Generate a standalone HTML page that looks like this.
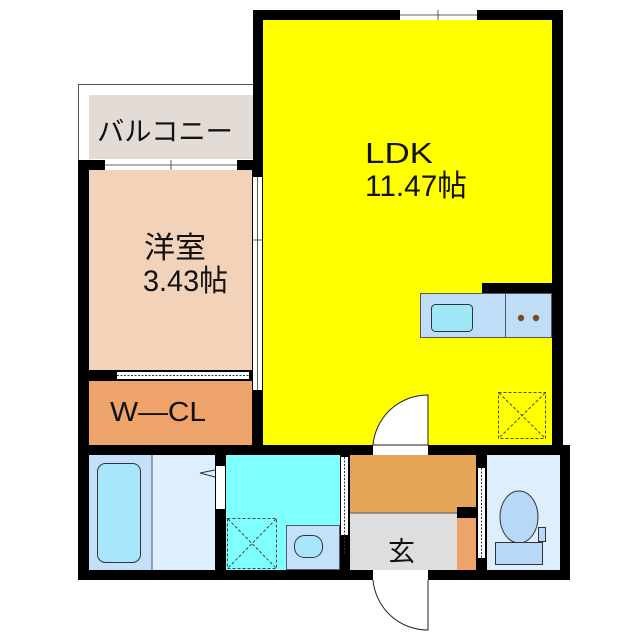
<!DOCTYPE html>
<html><head><meta charset="utf-8"><style>html,body{margin:0;padding:0;background:#fff}svg{display:block}text{font-family:"Liberation Sans","Noto Sans CJK JP",sans-serif;fill:#111}</style></head><body>
<svg width="640" height="640" viewBox="0 0 640 640" xmlns="http://www.w3.org/2000/svg">
<rect width="640" height="640" fill="#fff"/>
<rect x="78.5" y="84.5" width="175" height="76" fill="#fff" stroke="#555" stroke-width="1"/>
<rect x="89" y="95" width="164" height="64" fill="#e2dbd6"/>
<rect x="253" y="10" width="309" height="445" fill="#000"/>
<rect x="78" y="160" width="185" height="295" fill="#000"/>
<rect x="78" y="445" width="492" height="135" fill="#000"/>
<rect x="553" y="10" width="10" height="445" fill="#000"/>
<rect x="560" y="445" width="10" height="135" fill="#000"/>
<rect x="263" y="20" width="289" height="425" fill="#ffff00"/>
<rect x="400" y="10" width="77" height="10" fill="#fff"/>
<line x1="400" y1="15" x2="477" y2="15" stroke="#333" stroke-width="0.8"/>
<line x1="438" y1="10" x2="438" y2="20" stroke="#333" stroke-width="0.8"/>
<rect x="482" y="283" width="70" height="10" fill="#000"/>
<rect x="420.5" y="293.5" width="131" height="44" fill="#c0ddf8" stroke="#556" stroke-width="1"/>
<line x1="505.5" y1="293" x2="505.5" y2="338" stroke="#556"/>
<rect x="431.5" y="304.5" width="41" height="27" rx="4" fill="#9ee8f8" stroke="#333"/>
<circle cx="521" cy="318" r="3.2" fill="#7a4a20"/>
<circle cx="536" cy="318" r="3.2" fill="#7a4a20"/>
<rect x="498.5" y="392.5" width="47" height="46" fill="none" stroke="#444" stroke-dasharray="3,2"/>
<line x1="499" y1="393" x2="545" y2="438" stroke="#444" stroke-dasharray="3,2"/>
<line x1="545" y1="393" x2="499" y2="438" stroke="#444" stroke-dasharray="3,2"/>
<rect x="373" y="445" width="55" height="10" fill="#fff"/>
<path d="M428 445 L428 395 A55 55 0 0 0 373 445 Z" fill="#fff" stroke="#222" stroke-width="1"/>
<rect x="89" y="170" width="163" height="200" fill="#f2d3ba"/>
<rect x="105" y="160" width="132" height="10" fill="#fff"/>
<line x1="105" y1="165" x2="237" y2="165" stroke="#333" stroke-width="0.8"/>
<line x1="171" y1="160" x2="171" y2="170" stroke="#333" stroke-width="0.8"/>
<rect x="253" y="177" width="9" height="213" fill="#fff"/>
<line x1="257.5" y1="177" x2="257.5" y2="390" stroke="#333" stroke-width="0.8"/>
<line x1="253" y1="240" x2="262" y2="240" stroke="#333" stroke-width="0.8"/>
<rect x="117" y="372" width="132" height="7" fill="#fff"/>
<line x1="117" y1="375.5" x2="249" y2="375.5" stroke="#333" stroke-dasharray="2,1.5"/>
<rect x="89" y="381" width="163" height="64" fill="#eea36a"/>
<rect x="89" y="455" width="63" height="115" fill="#c4e0fa"/>
<rect x="152" y="455" width="63" height="115" fill="#ddeffc"/>
<line x1="152" y1="455" x2="152" y2="570" stroke="#556"/>
<rect x="97.5" y="463.5" width="43" height="99" rx="8" fill="#a8e6fc" stroke="#333"/>
<rect x="216" y="466" width="9" height="43" fill="#fff"/>
<path d="M215 470 L200 473 L215 477" fill="none" stroke="#333"/>
<rect x="226" y="455" width="114" height="115" fill="#80ffff"/>
<rect x="286.5" y="525.5" width="53" height="44" fill="#c4e0fa" stroke="#556"/>
<rect x="294.5" y="535.5" width="28" height="22" rx="10" fill="#a8e6fc" stroke="#333"/>
<rect x="227.5" y="518.5" width="49" height="50" fill="none" stroke="#444" stroke-dasharray="3,2"/>
<line x1="228" y1="519" x2="276" y2="568" stroke="#444" stroke-dasharray="3,2"/>
<line x1="276" y1="519" x2="228" y2="568" stroke="#444" stroke-dasharray="3,2"/>
<rect x="341" y="457" width="7" height="78" fill="#fff"/>
<line x1="344.5" y1="457" x2="344.5" y2="555" stroke="#333" stroke-dasharray="2,1.5"/>
<rect x="350" y="455" width="126" height="58" fill="#e6a65a"/>
<rect x="350" y="513" width="107" height="57" fill="#dedede"/>
<line x1="350" y1="513" x2="457" y2="513" stroke="#556"/>
<rect x="457" y="507" width="20" height="11" fill="#000"/>
<rect x="457" y="518" width="19" height="52" fill="#eea36a"/>
<rect x="478" y="468" width="7" height="90" fill="#fff"/>
<line x1="481.5" y1="468" x2="481.5" y2="558" stroke="#333" stroke-dasharray="2,1.5"/>
<rect x="487" y="455" width="73" height="115" fill="#ddeffc"/>
<ellipse cx="519" cy="517" rx="19" ry="26" fill="#b8d8f8" stroke="#333"/>
<rect x="538.5" y="527.5" width="7" height="14" fill="#b8d8f8" stroke="#333"/>
<rect x="495.5" y="542.5" width="47" height="22" fill="#b8d8f8" stroke="#333"/>
<rect x="373" y="570" width="55" height="10" fill="#fff"/>
<path d="M373 580 A55 55 0 0 0 428 630 L428 580" fill="none" stroke="#222" stroke-width="1"/>
<text x="97" y="141" font-size="27" textLength="136" lengthAdjust="spacingAndGlyphs">バルコニー</text>
<text x="365" y="163" font-size="29" textLength="68" lengthAdjust="spacingAndGlyphs">LDK</text>
<text x="365" y="196" font-size="30" textLength="102" lengthAdjust="spacingAndGlyphs">11.47帖</text>
<text x="144" y="258" font-size="30" textLength="62" lengthAdjust="spacingAndGlyphs">洋室</text>
<text x="143" y="291" font-size="30" textLength="85" lengthAdjust="spacingAndGlyphs">3.43帖</text>
<text x="110" y="421" font-size="28" textLength="96" lengthAdjust="spacingAndGlyphs">W—CL</text>
<text x="388" y="561" font-size="27">玄</text>
</svg>
</body></html>
